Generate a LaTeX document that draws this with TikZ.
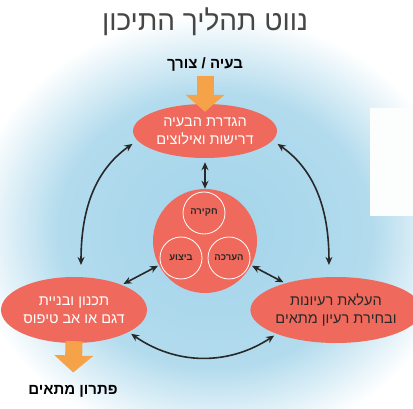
\documentclass[tikz,border=0pt]{standalone}
\usepackage{fontspec}
\setmainfont[Script=Hebrew]{Liberation Sans}
\usepackage{xcolor}
\usepackage{tikz}
\usetikzlibrary{shapes, arrows.meta, positioning}
\TeXXeTstate=1
\definecolor{salmon}{RGB}{239,106,92}
\definecolor{flow}{RGB}{246,162,72}
\definecolor{ink}{RGB}{40,40,40}
\definecolor{titlegray}{RGB}{70,70,70}
\definecolor{sky}{RGB}{168,213,234}
\newcommand{\rl}[1]{\beginR #1\endR}
\pgfdeclareradialshading{glow}{\pgfpoint{0bp}{0bp}}{rgb(0bp)=(0.64,0.83,0.92); rgb(16bp)=(0.70,0.86,0.93); rgb(25bp)=(1,1,1); rgb(50bp)=(1,1,1)}

\begin{document}
\begin{tikzpicture}[x=1pt,y=1pt,
    stage/.style={ellipse,fill=salmon,inner sep=0pt,minimum width=146pt,minimum height=66pt,align=center,font=\fontsize{14.5}{18}\selectfont},
    link/.style={draw=ink,line width=1.6pt,{Stealth[length=8pt,width=7pt]}-{Stealth[length=8pt,width=7pt]}},
    flowarrow/.style={draw=flow,line width=17pt,-{Triangle[length=17pt,width=38pt]}},
    callout/.style={font=\fontsize{15}{18}\selectfont\bfseries,text=black}]
        \useasboundingbox (0,0) rectangle (413,-409);
        \shade[shading=glow] (215,-230) ellipse [x radius=245, y radius=215];
        \fill[white!97!sky] (370,-108) rectangle (413,-216);

        \node[font=\fontsize{28}{30}\selectfont,text=titlegray] (title) at (205,-22) {\rl{נווט תהליך התיכון}};
        \node[callout] (problem) at (205,-64) {\rl{בעיה / צורך}};
        \node[stage,text=white,minimum width=144pt,minimum height=54pt] (define) at (205,-131) {\rl{הגדרת הבעיה}\\\rl{דרישות ואילוצים}};
        \node[circle,fill=salmon,minimum size=104pt,inner sep=0pt] (core) at (205,-241) {};
        \begin{scope}[every node/.style={circle,draw=white,thick,minimum size=42pt,inner sep=0pt,font=\fontsize{9.5}{10}\selectfont\bfseries,text=ink}]
          \node (explore) at (204,-213) {\rl{חקירה}};
          \node (assess) at (229,-258) {\rl{הערכה}};
          \node (execute) at (181,-258) {\rl{ביצוע}};
        \end{scope}
        \node[stage,text=white] (build) at (74,-310) {\rl{תכנון ובניית}\\\rl{דגם או אב טיפוס}};
        \node[stage,text=ink] (ideas) at (336,-310) {\rl{העלאת רעיונות}\\\rl{ובחירת רעיון מתאים}};
        \node[callout] (solution) at (73,-391) {\rl{פתרון מתאים}};

        \draw[flowarrow,shorten <=2pt,shorten >=-8pt] (problem.south) -- (define.north);
        \draw[flowarrow,shorten <=-2pt,shorten >=9pt] (build.south) -- (solution.north);
        \begin{scope}[every edge/.style={link}]
          \path (define) edge[shorten <=4pt] (core);
          \path (core) edge[shorten <=1pt,shorten >=2pt] (build);
          \path (core) edge[shorten <=1pt,shorten >=2pt] (ideas);
          \path (define.188) edge[out=215,in=90,shorten <=6pt,shorten >=12pt] (build.78);
          \path (define.352) edge[out=-35,in=90,shorten <=6pt,shorten >=12pt] (ideas.102);
          \path (build.-22) edge[bend right=34,shorten <=3pt,shorten >=3pt] (ideas.202);
        \end{scope}
      \end{tikzpicture}
\end{document}
